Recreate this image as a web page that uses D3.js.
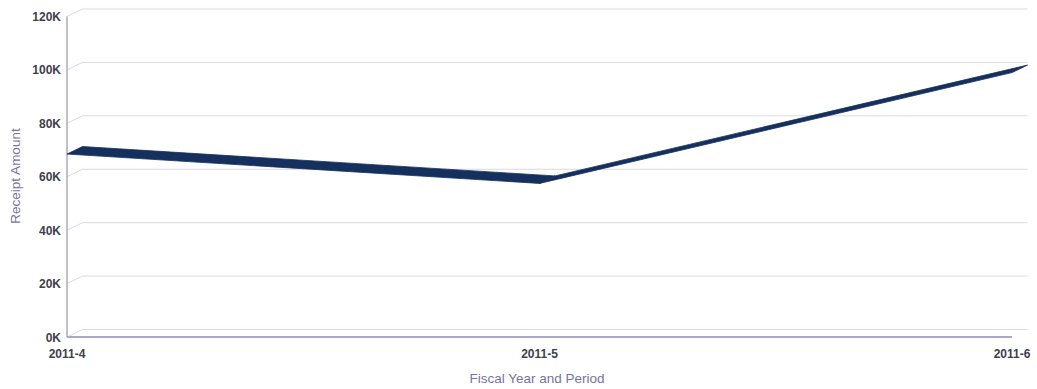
<!DOCTYPE html>
<html>
<head>
<meta charset="utf-8">
<script src="https://cdn.jsdelivr.net/npm/d3@7"></script>
<style>
  body { margin: 0; background: #fff; }
  svg { display: block; }
</style>
</head>
<body>
<div id="chart"></div>
<script>
// chart values
var periods = ['2011-4', '2011-5', '2011-6'];
var receipts = [68500, 57500, 99000];
var yTicks = [0, 20000, 40000, 60000, 80000, 100000, 120000];
var yTickLabels = ['0K', '20K', '40K', '60K', '80K', '100K', '120K'];

var fullWidth = 1037;
var fullHeight = 389;
var mainFont = 'Liberation Sans, Arial, sans-serif';

// 3d depth offset
var depthX = 15.5;
var depthY = -7.5;

var gridColor = '#d9d9ea';
var axisColor = '#a9a9cc';
var lineColor = '#15305d';
var labelColor = '#40404c';
var titleColor = '#7474a4';

window.onload = function() {
    render();
};

function render() {
    var svg = d3.select('#chart').append('svg')
        .attr('width', fullWidth)
        .attr('height', fullHeight);

    var x = d3.scalePoint()
        .domain(periods)
        .range([67, 1012]);

    var y = d3.scaleLinear()
        .domain([0, 120000])
        .range([337, 16.5]);

    var line = d3.line();

    // gridlines on the floor / back wall
    yTicks.forEach(function(t) {
        var yf = y(t);
        svg.append('path')
            .attr('d', line([
                [67, yf],
                [67 + depthX, yf + depthY],
                [1012 + depthX, yf + depthY]
            ]))
            .attr('fill', 'none')
            .attr('stroke', gridColor)
            .attr('stroke-width', 1);
    });

    // y axis
    svg.append('path')
        .attr('d', line([[67, y(120000)], [67, y(0)]]))
        .attr('stroke', axisColor)
        .attr('stroke-width', 1.5);

    // x axis
    svg.append('path')
        .attr('d', line([[67, y(0)], [1012, y(0)]]))
        .attr('stroke', axisColor)
        .attr('stroke-width', 2);

    // y tick labels
    yTicks.forEach(function(t, i) {
        svg.append('text')
            .attr('x', 61)
            .attr('y', y(t) + 4.5)
            .style('font-family', mainFont)
            .style('font-size', '12px')
            .style('font-weight', 'bold')
            .style('fill', labelColor)
            .style('text-anchor', 'end')
            .text(yTickLabels[i]);
    });

    // x tick labels
    periods.forEach(function(p) {
        svg.append('text')
            .attr('x', x(p))
            .attr('y', 358)
            .style('font-family', mainFont)
            .style('font-size', '12px')
            .style('font-weight', 'bold')
            .style('fill', labelColor)
            .style('text-anchor', 'middle')
            .text(p);
    });

    // 3d ribbon line, one face per segment
    for (var i = 0; i < periods.length - 1; i++) {
        var x0 = x(periods[i]), y0 = y(receipts[i]);
        var x1 = x(periods[i + 1]), y1 = y(receipts[i + 1]);
        svg.append('path')
            .attr('d', line([
                [x0, y0],
                [x1, y1],
                [x1 + depthX, y1 + depthY],
                [x0 + depthX, y0 + depthY]
            ]) + 'Z')
            .attr('fill', lineColor)
            .attr('stroke', lineColor)
            .attr('stroke-width', 0.8)
            .attr('stroke-linejoin', 'round');
    }

    // axis titles
    svg.append('text')
        .attr('x', 537)
        .attr('y', 383)
        .style('font-family', mainFont)
        .style('font-size', '13.5px')
        .style('fill', titleColor)
        .style('text-anchor', 'middle')
        .text('Fiscal Year and Period');

    svg.append('text')
        .attr('transform', 'translate(20,176) rotate(-90)')
        .style('font-family', mainFont)
        .style('font-size', '13.5px')
        .style('fill', titleColor)
        .style('text-anchor', 'middle')
        .text('Receipt Amount');
}
</script>
</body>
</html>
